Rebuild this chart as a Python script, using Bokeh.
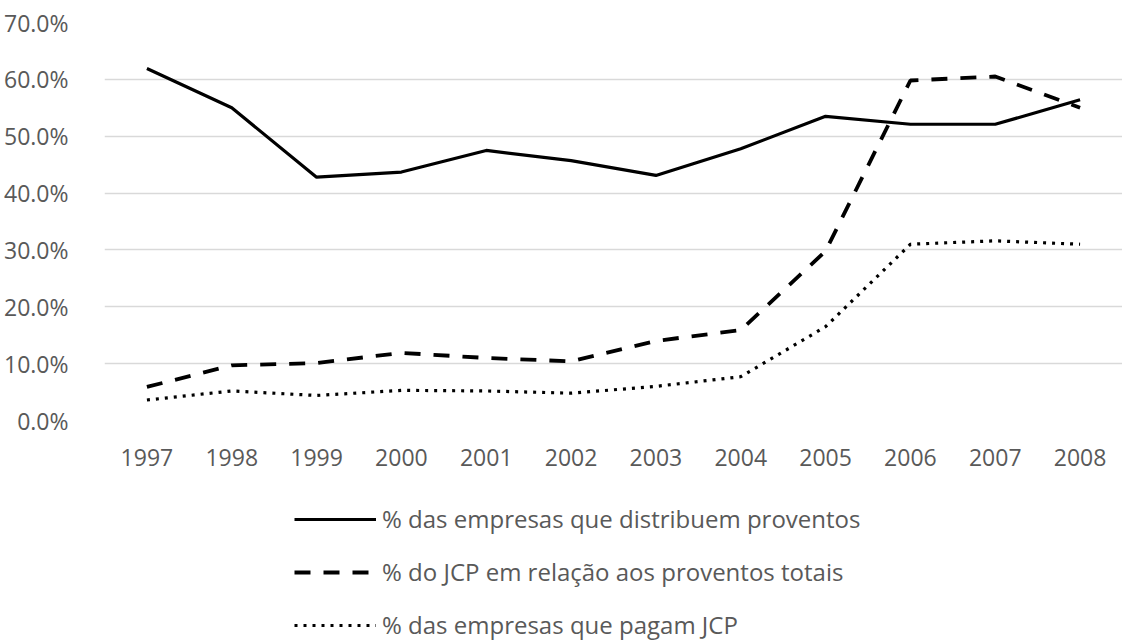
from bokeh.plotting import figure
from bokeh.layouts import column
from bokeh.models import (Range1d, FactorRange, FixedTicker, NumeralTickFormatter,
                          Legend, LegendItem)
from bokeh.embed import file_html
from bokeh.resources import INLINE

years = ["1997", "1998", "1999", "2000", "2001", "2002", "2003", "2004",
         "2005", "2006", "2007", "2008"]
distribuem = [0.619, 0.550, 0.428, 0.437, 0.475, 0.457, 0.431, 0.478,
              0.535, 0.521, 0.521, 0.564]
jcp_total = [0.059, 0.097, 0.101, 0.119, 0.110, 0.104, 0.140, 0.159,
             0.298, 0.598, 0.605, 0.550]
pagam_jcp = [0.036, 0.052, 0.044, 0.053, 0.052, 0.048, 0.060, 0.077,
             0.165, 0.310, 0.316, 0.310]
labels = ["% das empresas que distribuem proventos",
          "% do JCP em relação aos proventos totais",
          "% das empresas que pagam JCP"]
y_ticks = [0.0, 0.1, 0.2, 0.3, 0.4, 0.5, 0.6, 0.7]

FONT = "Open Sans"
TXT = "#595959"
styles = [dict(line_color="black", line_width=3.2),
          dict(line_color="black", line_width=3.8, line_dash="16 13"),
          dict(line_color="black", line_width=3.2, line_dash="3 6")]

p = figure(frame_width=1018, frame_height=398, x_range=FactorRange(*years),
           y_range=Range1d(0, 0.7), output_backend="svg", toolbar_location=None,
           min_border_left=97, min_border_right=0, min_border_top=22,
           min_border_bottom=60)
p.outline_line_color = None
p.background_fill_color = "white"
p.border_fill_color = "white"

p.xgrid.grid_line_color = None
p.ygrid.grid_line_color = "#d9d9d9"
p.ygrid.grid_line_width = 1.5
p.yaxis.ticker = FixedTicker(ticks=y_ticks)
p.yaxis.formatter = NumeralTickFormatter(format="0.0%")

for ax in (p.xaxis[0], p.yaxis[0]):
    ax.axis_line_color = None
    ax.major_tick_line_color = None
    ax.minor_tick_line_color = None
    ax.major_label_text_font = FONT
    ax.major_label_text_font_size = "23px"
    ax.major_label_text_color = TXT
p.yaxis.major_label_standoff = 30
p.xaxis.major_label_standoff = 22

for series, st in zip([distribuem, jcp_total, pagam_jcp], styles):
    p.line(years, series, **st)

# legend panel below the chart (legend-only renderers, no visible data)
q = figure(width=1115, height=161, x_range=Range1d(0, 1), y_range=Range1d(0, 1),
           output_backend="svg", toolbar_location=None,
           min_border_left=0, min_border_right=0, min_border_top=0,
           min_border_bottom=0)
q.axis.visible = False
q.grid.visible = False
q.outline_line_color = None
items = []
for lab, st in zip(labels, styles):
    r = q.line(x=[float("nan")], y=[float("nan")], **st)
    items.append(LegendItem(label=lab, renderers=[r]))

legend = Legend(items=items, location=(190, 0), orientation="vertical",
                glyph_width=82, glyph_height=32, spacing=20,
                label_standoff=6, padding=0, margin=0,
                label_text_font=FONT, label_text_font_size="24px",
                label_text_color=TXT, border_line_color=None,
                background_fill_alpha=0)
q.add_layout(legend, "center")

layout = column(p, q, spacing=0)
open("out.html", "w").write(file_html(layout, INLINE))
